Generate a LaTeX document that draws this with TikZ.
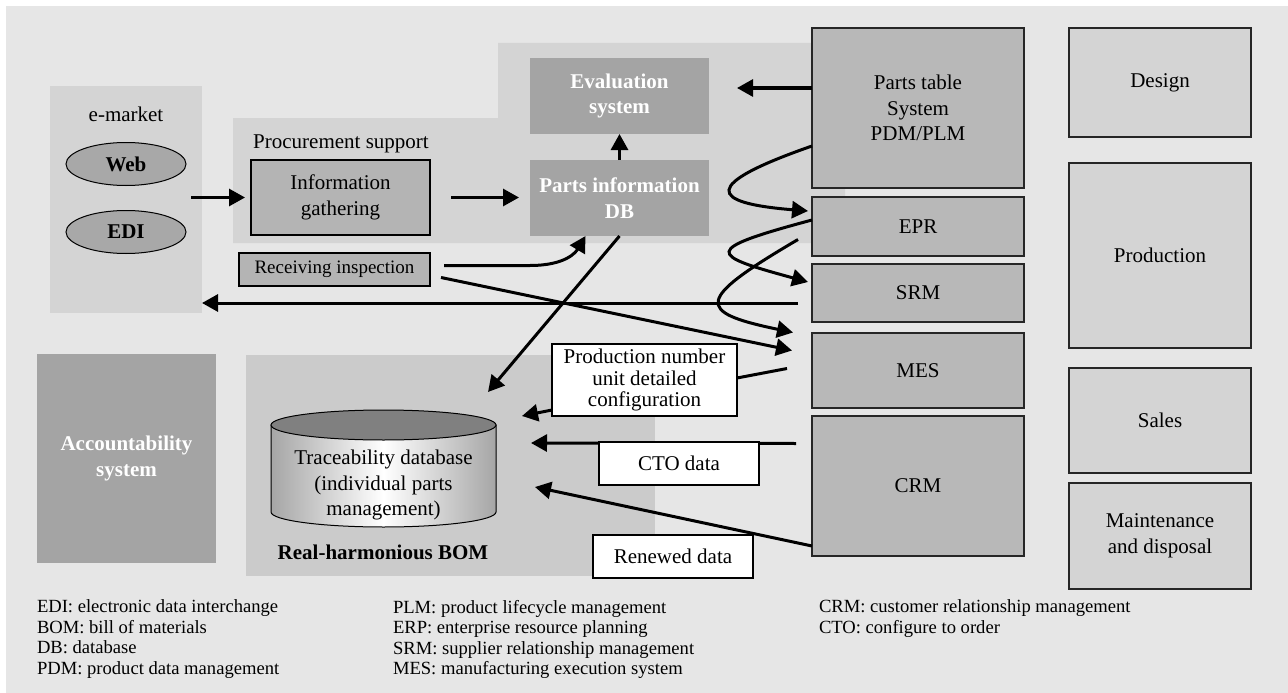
\documentclass[tikz,border=0pt]{standalone}
\usepackage{fontspec}
\setmainfont{Liberation Serif}
\usetikzlibrary{arrows.meta,shapes.geometric,positioning}
\definecolor{bgfill}{RGB}{230,230,230}
\definecolor{panelfill}{RGB}{212,212,212}
\definecolor{bomfill}{RGB}{203,203,203}
\definecolor{sysfill}{RGB}{164,164,164}
\definecolor{taskfill}{RGB}{180,180,180}
\definecolor{itfill}{RGB}{184,184,184}
\definecolor{ovalfill}{RGB}{168,168,168}
\definecolor{cyltop}{RGB}{128,128,128}
\newcommand{\lblsize}{\fontsize{21}{25.5}\selectfont}
\newcommand{\legsize}{\fontsize{18.6}{20.5}\selectfont}

\begin{document}
\begin{tikzpicture}[x=1pt,y=-1pt,
    every node/.style={inner sep=0pt, outer sep=0pt, align=center, font=\lblsize},
    panel/.style={fill=panelfill},
    sysbox/.style={rectangle, fill=sysfill, text=white, font=\lblsize\bfseries},
    taskbox/.style={rectangle, draw=black, line width=1.3pt, fill=taskfill},
    itbox/.style={rectangle, draw=black!85, line width=1.3pt, fill=itfill, minimum width=212},
    deptbox/.style={rectangle, draw=black!85, line width=1.3pt, fill=panelfill, minimum width=182},
    databox/.style={rectangle, draw=black, line width=1.3pt, fill=white},
    oval/.style={ellipse, draw=black, line width=1pt, fill=ovalfill, minimum width=120, minimum height=43, font=\lblsize\bfseries},
    conn/.style={line width=3pt},
    arr/.style={conn, -{Triangle[length=16pt,width=17pt]}},
    legend/.style={anchor=north west, align=left, font=\legsize}]

% background
\useasboundingbox (0,0) rectangle (1288,693);
\fill[white] (0,0) rectangle (1288,693);
\fill[bgfill] (6,6) rectangle (1288,693);

% panels
\node[panel, minimum width=152, minimum height=227] (emarket) at (126,199.5) {};
\fill[panel] (233,118) -- (498,118) -- (498,43) -- (845,43) -- (845,243) -- (233,243) -- cycle;
\node[fill=bomfill, minimum width=409, minimum height=221] (bom) at (450.5,465.5) {};

% e-market and procurement
\node at (126,114) {e-market};
\node[oval] (web) at (126,164) {Web};
\node[oval] (edi) at (126,232) {EDI};
\node at (341,144) {Procurement support};
\node[taskbox, minimum width=179, minimum height=75] (infog) at (340.5,197.5) {Information\\gathering};
\node[taskbox, minimum width=191, minimum height=33, font=\fontsize{19}{22}\selectfont] (recv) at (334.5,269.5) {Receiving inspection};
\node[sysbox, minimum width=179, minimum height=76] (evals) at (619.5,96) {Evaluation\\system};
\node[sysbox, minimum width=179, minimum height=76] (pdb) at (619.5,198) {Parts information\\DB};
\node[sysbox, minimum width=179, minimum height=209] (acct) at (126.5,458.5) {Accountability\\system};

% traceability database
\shadedraw[left color=black!35, right color=black!35, middle color=white, draw=black, line width=1pt]
    (271,425) -- (271,512) arc[start angle=180, end angle=0, x radius=112.5, y radius=15] -- (496,425) -- cycle;
\filldraw[fill=cyltop, line width=1pt] (383.5,425) ellipse [x radius=112.5, y radius=15];
\node (tdb) at (383.5,485) {Traceability database\\(individual parts\\management)};
\node[font=\lblsize\bfseries] at (383,552) {Real-harmonious BOM};

% IT systems
\node[itbox, minimum height=160] (ptable) at (918,108) {Parts table\\System\\PDM/PLM};
\node[itbox, minimum height=59, below=9pt of ptable] (epr) {EPR};
\node[itbox, minimum height=58, below=8pt of epr] (srm) {SRM};
\node[itbox, minimum height=75, below=11pt of srm] (mes) {MES};
\node[itbox, minimum height=140, below=8pt of mes] (crm) {CRM};

% departments
\node[deptbox, minimum height=109] (design) at (1160,82.5) {Design};
\node[deptbox, minimum height=185, below=26pt of design] (prod) {Production};
\node[deptbox, minimum height=105, below=20pt of prod] (sales) {Sales};
\node[deptbox, minimum height=106, below=10pt of sales] (maint) {Maintenance\\and disposal};

\node[databox, minimum width=185, minimum height=72, font=\fontsize{21}{21.5}\selectfont] (prodnum) at (644.5,380) {Production number\\unit detailed\\configuration};

\coordinate (inA) at (488,392);
\coordinate (inB) at (522,416);
\coordinate (inC) at (531,443);
\coordinate (inD) at (535,487);

% connectors
\draw[arr, shorten >=6pt] ([xshift=-11pt]emarket.east |- infog.west) -- (infog.west);
\draw[arr, shorten <=21pt, shorten >=11pt] (infog.east) -- (infog.east -| pdb.west);
\draw[arr] (pdb.north) -- (evals.south);
\draw[arr, shorten >=28pt] ([yshift=8pt]evals.east -| ptable.west) -- ([yshift=8pt]evals.east);
\draw[arr] ([xshift=14pt,yshift=4pt]recv.east) -- (530,265.5) .. controls (566,265.5) and (576,252) .. ([xshift=-34pt]pdb.south);
\draw[arr] ([xshift=11pt,yshift=-8pt]recv.east) -- ([xshift=-20pt,yshift=20pt]mes.west);
\draw[arr] ([yshift=-38pt]ptable.west) .. controls (700,185) and (709,203) .. ([xshift=-4pt,yshift=15.5pt]epr.west);
\draw[arr] ([yshift=6.5pt]epr.west) .. controls (700,250) and (709,255) .. ([xshift=-4pt,yshift=11pt]srm.west);
\draw[arr] ([xshift=-14pt,yshift=-13pt]epr.west) .. controls (695,300) and (695,312) .. ([xshift=-19pt,yshift=38pt]mes.west);
\draw[arr] ([xshift=-14pt,yshift=-10pt]srm.west) -- ([yshift=-10pt]srm.west -| emarket.east);
\draw[conn] ([xshift=-25pt,yshift=2pt]mes.west) -- ([yshift=2pt]prodnum.east);
\draw[arr] ([yshift=-30pt]prodnum.west) -- (inB);
\draw[arr] (pdb.south) -- (inA);
\draw[arr] ([xshift=-16pt,yshift=42.5pt]crm.west) -- (inC);
\draw[arr] ([yshift=-60pt]crm.west) -- (inD);

\node[databox, minimum width=160, minimum height=43] (cto) at (679,463.5) {CTO data};
\node[databox, minimum width=160, minimum height=43] (renew) at (673,556.5) {Renewed data};

% legend
\node[legend] (legA) at (37,600) {EDI: electronic data interchange\\BOM: bill of materials\\DB: database\\PDM: product data management};
\node[legend] (legB) at (393,600) {PLM: product lifecycle management\\ERP: enterprise resource planning\\SRM: supplier relationship management\\MES: manufacturing execution system};
\node[legend] (legC) at (819,600) {CRM: customer relationship management\\CTO: configure to order};
\end{tikzpicture}
\end{document}
